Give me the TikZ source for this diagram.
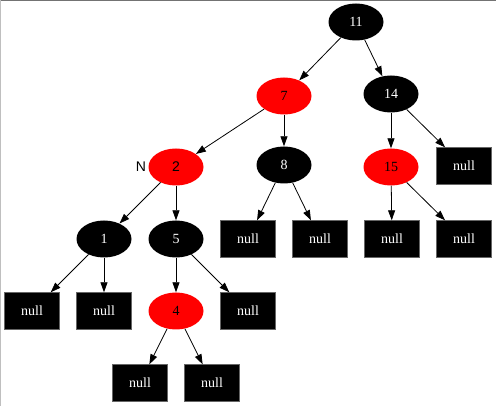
\documentclass[tikz,border=0pt]{standalone}
\usepackage{fontspec}
\setmainfont{Liberation Serif}
\newfontfamily\sansf{Liberation Sans}
\usetikzlibrary{shapes.geometric,arrows.meta}
\begin{document}
\begin{tikzpicture}[x=1pt,y=-1pt,
  font=\fontsize{14}{16}\selectfont,
  blknode/.style={ellipse,fill=black,text=white,minimum width=55pt,minimum height=37pt,inner sep=0pt},
  rednode/.style={ellipse,fill={rgb,1:red,1;green,0;blue,0},text=black,minimum width=55pt,minimum height=37pt,inner sep=0pt},
  nulnode/.style={rectangle,fill=black,draw=black!60,text=white,minimum width=55pt,minimum height=37pt,inner sep=0pt},
  edge/.style={-{Triangle[length=10pt,width=7pt]},line width=0.8pt}]
\useasboundingbox (0,0) rectangle (496,406);
\fill[white] (0,0) rectangle (496,406);
\draw[black!55,line width=1.5pt] (0,0.5) -- (496,0.5);
\draw[black!25,line width=1.5pt] (0.5,0) -- (0.5,406);
\node[blknode] (n11) at (356,22) {11};
\node[rednode] (n7) at (284,96) {\textcolor{black}{7}};
\node[blknode] (n14) at (391,94) {14};
\node[rednode] (n2) at (176,167) {\sansf\textcolor{black}{2}};
\node[font=\fontsize{14}{16}\selectfont\sansf] (lN) at (141,167) {N};
\node[blknode] (n8) at (284,165) {8};
\node[rednode] (n15) at (391,167) {\textcolor{black}{15}};
\node[nulnode] (z14) at (464,166) {null};
\node[blknode] (n1) at (104,239) {1};
\node[blknode] (n5) at (176,239) {5};
\node[nulnode] (z8a) at (248,239) {null};
\node[nulnode] (z8b) at (320,239) {null};
\node[nulnode] (z15a) at (392,239) {null};
\node[nulnode] (z15b) at (464,239) {null};
\node[nulnode] (z1a) at (32,311) {null};
\node[nulnode] (z1b) at (104,311) {null};
\node[rednode] (n4) at (176,311) {\textcolor{black}{4}};
\node[nulnode] (z5) at (248,311) {null};
\node[nulnode] (z4a) at (140,383) {null};
\node[nulnode] (z4b) at (212,383) {null};
\draw[edge] (n11) -- (n7);
\draw[edge] (n11) -- (n14);
\draw[edge] (n7) -- (n2);
\draw[edge] (n7) -- (n8);
\draw[edge] (n14) -- (n15);
\draw[edge] (n14) -- (z14);
\draw[edge] (n2) -- (n1);
\draw[edge] (n2) -- (n5);
\draw[edge] (n8) -- (z8a);
\draw[edge] (n8) -- (z8b);
\draw[edge] (n15) -- (z15a);
\draw[edge] (n15) -- (z15b);
\draw[edge] (n1) -- (z1a);
\draw[edge] (n1) -- (z1b);
\draw[edge] (n5) -- (n4);
\draw[edge] (n5) -- (z5);
\draw[edge] (n4) -- (z4a);
\draw[edge] (n4) -- (z4b);
\end{tikzpicture}
\end{document}
